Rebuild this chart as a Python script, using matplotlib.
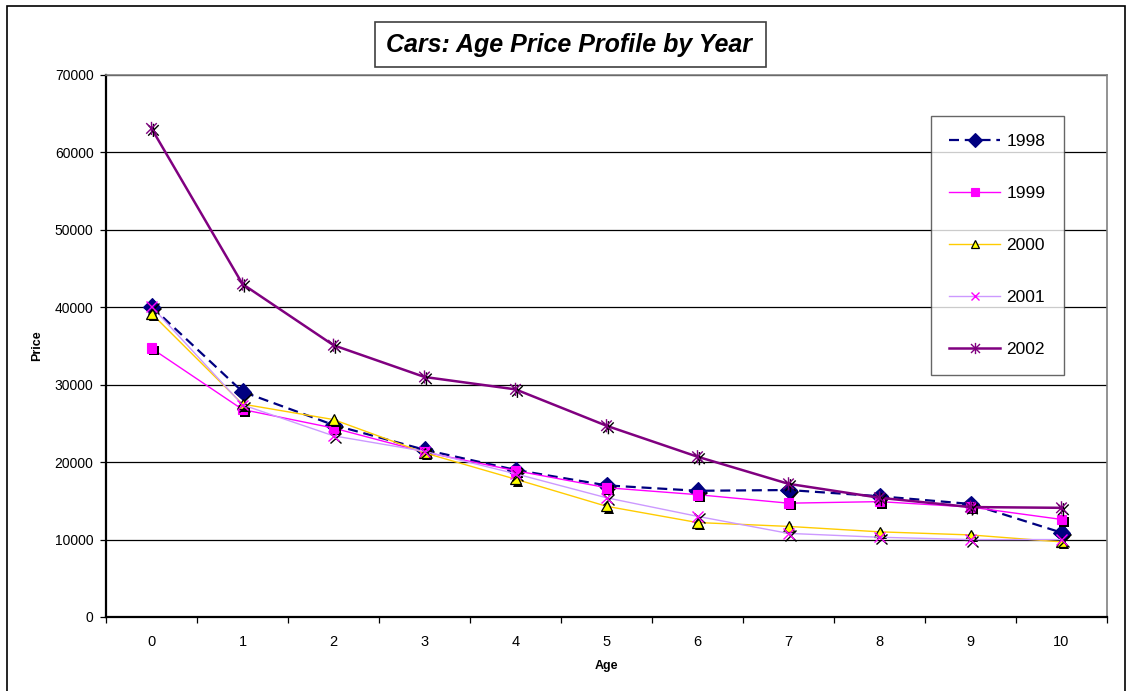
import matplotlib
matplotlib.use("Agg")
import matplotlib.pyplot as plt
import matplotlib.patheffects as pe
from matplotlib.lines import Line2D
from matplotlib.patches import Rectangle
from matplotlib.path import Path

# Car prices by age, one series per model year
ages = [0, 1, 2, 3, 4, 5, 6, 7, 8, 9, 10]
years = ["1998", "1999", "2000", "2001", "2002"]
price_1998 = [40100, 29100, 24800, 21600, 19000, 17000, 16300, 16400, 15600, 14600, 10900]
price_1999 = [34700, 26800, 24400, 21300, 18900, 16700, 15800, 14700, 14900, 14200, 12600]
price_2000 = [39200, 27500, 25500, 21200, 17800, 14300, 12200, 11700, 11000, 10600, 9700]
price_2001 = [40100, 27400, 23400, 21400, 18500, 15400, 13000, 10800, 10300, 10000, 10000]
price_2002 = [63100, 43000, 35100, 31000, 29400, 24700, 20700, 17200, 15400, 14200, 14100]
y_ticks = [0, 10000, 20000, 30000, 40000, 50000, 60000, 70000]

plt.rcParams["font.family"] = ["Liberation Sans", "DejaVu Sans"]

W, H = 1127, 691
fig = plt.figure(figsize=(W / 100, H / 100), dpi=100)
fig.patch.set_facecolor("white")


def fx(px):
    return px / W


def fy(py):
    return 1 - py / H


# outer chart frame
fig.patches.append(Rectangle((fx(7), fy(693)), fx(1125) - fx(7), fy(6) - fy(693),
                             transform=fig.transFigure, fill=False,
                             edgecolor="black", linewidth=1.2, zorder=0))

ax = fig.add_axes([fx(106), fy(617), fx(1107) - fx(106), fy(75) - fy(617)])

# asterisk-style marker: an x with a vertical stroke
star_path = Path([(-1, -1), (1, 1), (-1, 1), (1, -1), (0, -1.25), (0, 1.25)],
                 [Path.MOVETO, Path.LINETO, Path.MOVETO, Path.LINETO, Path.MOVETO, Path.LINETO])

series = [
    dict(values=price_1998, label=years[0], color="#000080", lw=1.6, ls=(0, (4.5, 2.6)),
         marker="D", ms=8.5, mfc="#000080", mec="#000080", mew=0.8, filled=True),
    dict(values=price_1999, label=years[1], color="#FF00FF", lw=1.0, ls="-",
         marker="s", ms=7, mfc="#FF00FF", mec="#FF00FF", mew=0.8, filled=True),
    dict(values=price_2000, label=years[2], color="#FFCC00", lw=1.0, ls="-",
         marker="^", ms=7.5, mfc="#FFFF00", mec="black", mew=0.9, filled=True),
    dict(values=price_2001, label=years[3], color="#CC99FF", lw=1.0, ls="-",
         marker="x", ms=7.5, mfc="#FF00FF", mec="#FF00FF", mew=1.0, filled=False),
    dict(values=price_2002, label=years[4], color="#800080", lw=1.8, ls="-",
         marker=star_path, ms=9.5, mfc="#800080", mec="#800080", mew=1.0, filled=False),
]

handles = []
for i, s in enumerate(series):
    z = 3 + i
    ax.plot(ages, s["values"], color=s["color"], lw=s["lw"], linestyle=s["ls"], zorder=z)
    if s["filled"]:
        effects = [pe.SimplePatchShadow(offset=(1.6, -1.6), shadow_rgbFace="black", alpha=1.0),
                   pe.Normal()]
    else:
        effects = [pe.SimpleLineShadow(offset=(1.4, -1.4), shadow_color="black", alpha=1.0),
                   pe.Normal()]
    ax.plot(ages, s["values"], linestyle="none", marker=s["marker"], markersize=s["ms"],
            markerfacecolor=s["mfc"], markeredgecolor=s["mec"], markeredgewidth=s["mew"],
            zorder=z + 0.5, path_effects=effects)
    handles.append(Line2D([], [], color=s["color"], lw=s["lw"], linestyle=s["ls"],
                          marker=s["marker"], markersize=s["ms"] * 0.85,
                          markerfacecolor=s["mfc"], markeredgecolor=s["mec"],
                          markeredgewidth=s["mew"], label=s["label"]))

# axes, ticks and grid
ax.set_xlim(-0.5, 10.5)
ax.set_ylim(0, 70000)
ax.set_yticks(y_ticks)
ax.set_yticklabels([str(v) for v in y_ticks], fontsize=10)
ax.set_xticks([a - 0.5 for a in ages] + [ages[-1] + 0.5])
ax.set_xticklabels([])
ax.set_xticks(ages, minor=True)
ax.set_xticklabels([str(a) for a in ages], minor=True, fontsize=10.5)
ax.tick_params(axis="x", which="major", direction="out", length=4, width=0.9, color="black")
ax.tick_params(axis="x", which="minor", length=0, pad=13)
ax.tick_params(axis="y", direction="out", length=4, width=0.9, color="black", pad=5)
ax.yaxis.grid(True, color="black", linewidth=0.9, zorder=1)
ax.set_axisbelow(True)
for side in ("left", "bottom"):
    ax.spines[side].set_color("black")
    ax.spines[side].set_linewidth(1.6)
for side in ("top", "right"):
    ax.spines[side].set_color("#808080")
    ax.spines[side].set_linewidth(1.2)

ax.set_xlabel("Age", fontsize=9, fontweight="bold", labelpad=8)
ax.set_ylabel("Price", fontsize=9, fontweight="bold", labelpad=8)

# title in a framed box
fig.patches.append(Rectangle((fx(375), fy(67)), fx(766) - fx(375), fy(22) - fy(67),
                             transform=fig.transFigure, fill=True, facecolor="white",
                             edgecolor="#404040", linewidth=1.2, zorder=2))
fig.text(fx(569), fy(45), "Cars: Age Price Profile by Year", fontsize=18,
         fontweight="bold", fontstyle="italic", ha="center", va="center", zorder=3)

leg = fig.legend(handles=handles, loc="upper left",
                 bbox_to_anchor=(fx(931), fy(116)), borderaxespad=0,
                 fontsize=12.5, frameon=True, fancybox=False, shadow=False,
                 handlelength=2.95, handletextpad=0.35, labelspacing=2.12,
                 borderpad=1.05, numpoints=1)
leg.get_frame().set_edgecolor("#404040")
leg.get_frame().set_linewidth(1.0)

fig.savefig("out.png", dpi=100, facecolor="white")
